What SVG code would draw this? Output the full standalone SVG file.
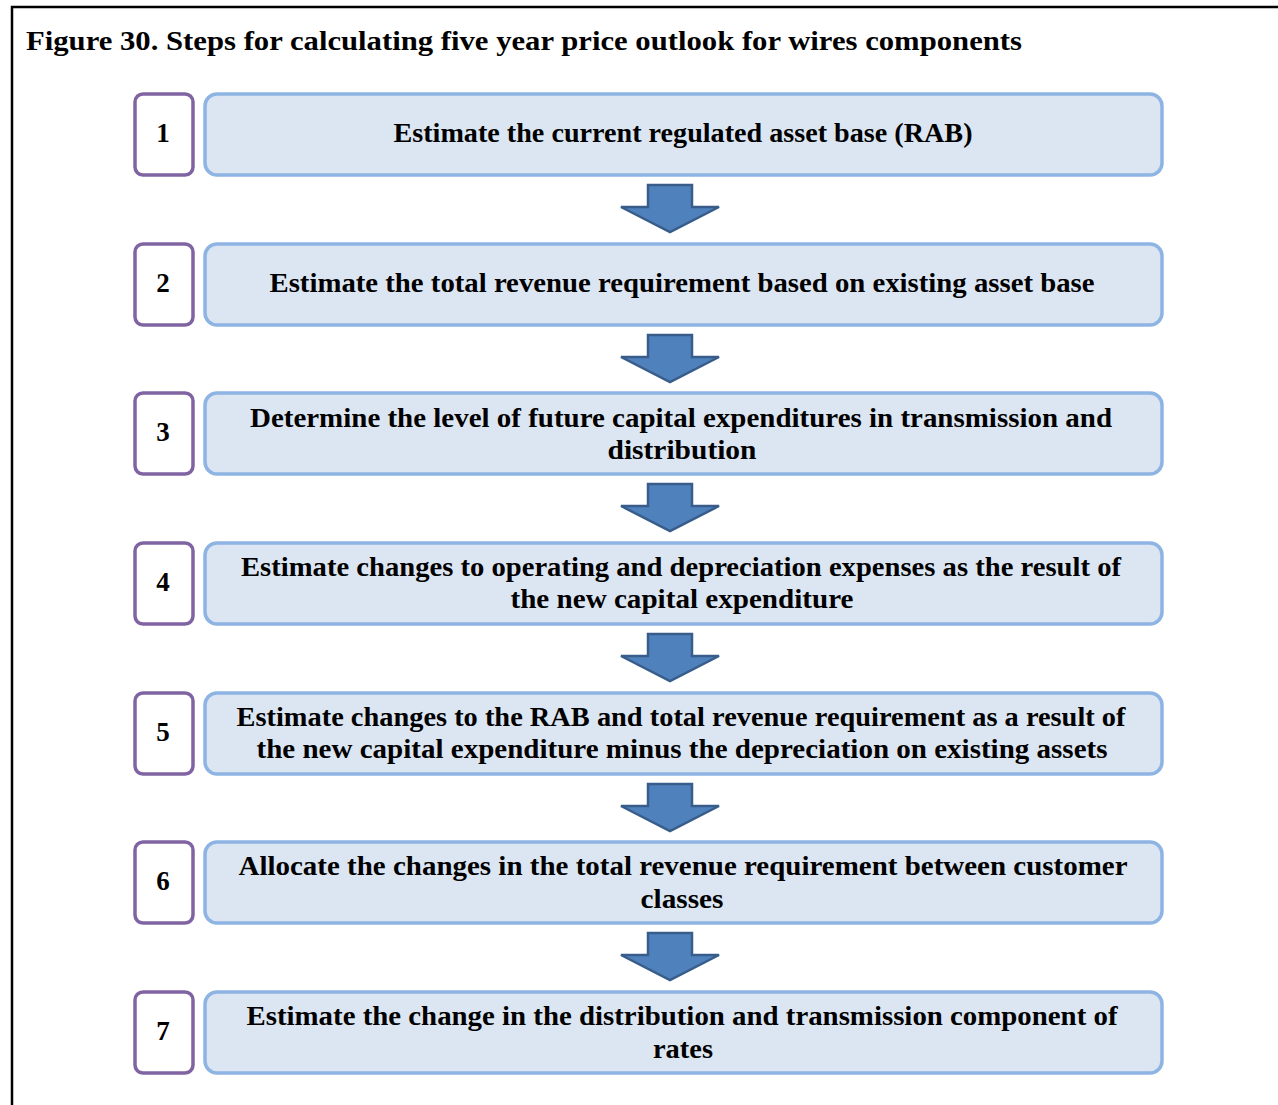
<svg xmlns="http://www.w3.org/2000/svg" width="1278" height="1105" viewBox="0 0 1278 1105">
<style>
.num{fill:#fff;stroke:#8064A2;stroke-width:3.5}
.step{fill:#DCE6F2;stroke:#8EB4E3;stroke-width:3.5}
.t{font-family:"Liberation Serif","Times New Roman",serif;font-weight:bold;font-size:28px;fill:#000;text-anchor:middle}
.n{font-family:"Liberation Serif","Times New Roman",serif;font-weight:bold;font-size:27px;fill:#000;text-anchor:middle}
.title{font-family:"Liberation Serif","Times New Roman",serif;font-weight:bold;font-size:28px;fill:#000}
.arr{fill:#4F81BD;stroke:#385D8A;stroke-width:2.5;stroke-linejoin:miter}
</style>
<rect width="1278" height="1105" fill="#fff"/>
<path d="M12 1105 V7 H1278" fill="none" stroke="#000" stroke-width="2.5"/>
<text class="title" x="26" y="50" textLength="996" lengthAdjust="spacingAndGlyphs">Figure 30. Steps for calculating five year price outlook for wires components</text>

<g id="connectors">
<path class="arr" d="M648 185 H692 V207 H719 L670 232 L621 207 H648 Z"/>
<path class="arr" d="M648 335 H692 V357 H719 L670 382 L621 357 H648 Z"/>
<path class="arr" d="M648 484 H692 V506 H719 L670 531 L621 506 H648 Z"/>
<path class="arr" d="M648 634 H692 V656 H719 L670 681 L621 656 H648 Z"/>
<path class="arr" d="M648 784 H692 V806 H719 L670 831 L621 806 H648 Z"/>
<path class="arr" d="M648 933 H692 V955 H719 L670 980 L621 955 H648 Z"/>
</g>

<g id="step1">
<rect class="num" x="135" y="94" width="58" height="81" rx="8"/>
<text class="n" x="163" y="142">1</text>
<rect class="step" x="205" y="94" width="957" height="81" rx="12"/>
<text class="t" x="683" y="142" textLength="579" lengthAdjust="spacingAndGlyphs">Estimate the current regulated asset base (RAB)</text>
</g>
<g id="step2">
<rect class="num" x="135" y="244" width="58" height="81" rx="8"/>
<text class="n" x="163" y="292">2</text>
<rect class="step" x="205" y="244" width="957" height="81" rx="12"/>
<text class="t" x="682" y="292" textLength="825" lengthAdjust="spacingAndGlyphs">Estimate the total revenue requirement based on existing asset base</text>
</g>
<g id="step3">
<rect class="num" x="135" y="393" width="58" height="81" rx="8"/>
<text class="n" x="163" y="441">3</text>
<rect class="step" x="205" y="393" width="957" height="81" rx="12"/>
<text class="t" x="681" y="427" textLength="862" lengthAdjust="spacingAndGlyphs">Determine the level of future capital expenditures in transmission and</text>
<text class="t" x="682" y="459" textLength="149" lengthAdjust="spacingAndGlyphs">distribution</text>
</g>
<g id="step4">
<rect class="num" x="135" y="543" width="58" height="81" rx="8"/>
<text class="n" x="163" y="591">4</text>
<rect class="step" x="205" y="543" width="957" height="81" rx="12"/>
<text class="t" x="681" y="576" textLength="880" lengthAdjust="spacingAndGlyphs">Estimate changes to operating and depreciation expenses as the result of</text>
<text class="t" x="682" y="608" textLength="343" lengthAdjust="spacingAndGlyphs">the new capital expenditure</text>
</g>
<g id="step5">
<rect class="num" x="135" y="693" width="58" height="81" rx="8"/>
<text class="n" x="163" y="741">5</text>
<rect class="step" x="205" y="693" width="957" height="81" rx="12"/>
<text class="t" x="681" y="726" textLength="889" lengthAdjust="spacingAndGlyphs">Estimate changes to the RAB and total revenue requirement as a result of</text>
<text class="t" x="682" y="758" textLength="851" lengthAdjust="spacingAndGlyphs">the new capital expenditure minus the depreciation on existing assets</text>
</g>
<g id="step6">
<rect class="num" x="135" y="842" width="58" height="81" rx="8"/>
<text class="n" x="163" y="890">6</text>
<rect class="step" x="205" y="842" width="957" height="81" rx="12"/>
<text class="t" x="683" y="875" textLength="889" lengthAdjust="spacingAndGlyphs">Allocate the changes in the total revenue requirement between customer</text>
<text class="t" x="682" y="908" textLength="83" lengthAdjust="spacingAndGlyphs">classes</text>
</g>
<g id="step7">
<rect class="num" x="135" y="992" width="58" height="81" rx="8"/>
<text class="n" x="163" y="1040">7</text>
<rect class="step" x="205" y="992" width="957" height="81" rx="12"/>
<text class="t" x="682" y="1025" textLength="871" lengthAdjust="spacingAndGlyphs">Estimate the change in the distribution and transmission component of</text>
<text class="t" x="683" y="1058" textLength="60" lengthAdjust="spacingAndGlyphs">rates</text>
</g>
</svg>
